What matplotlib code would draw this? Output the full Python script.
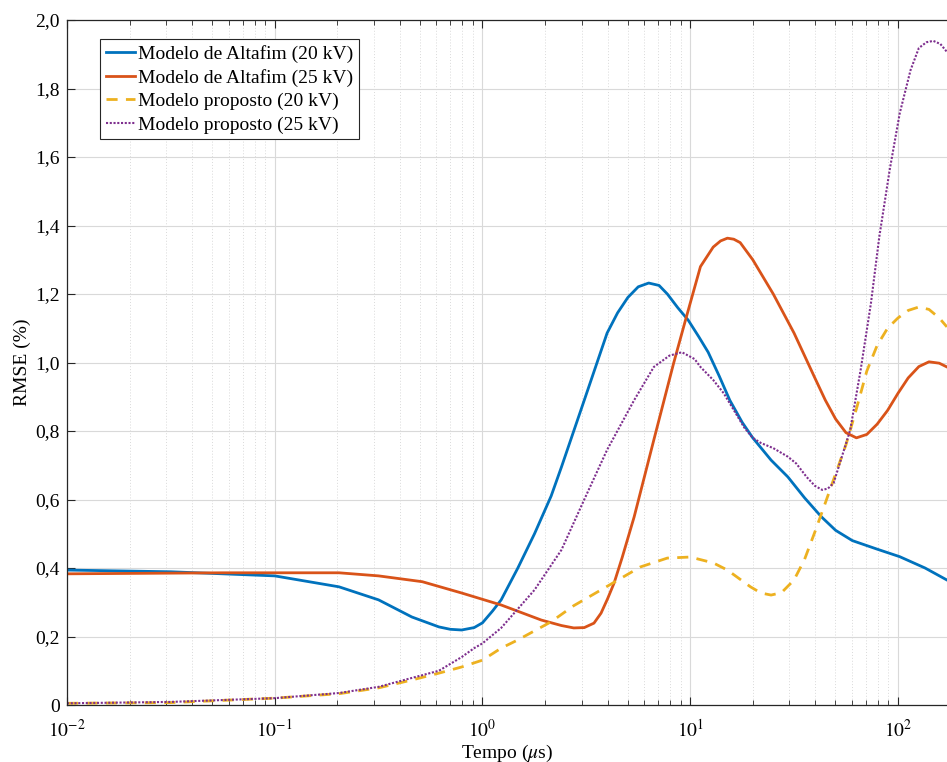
import math
import matplotlib
matplotlib.use("Agg")
import matplotlib.pyplot as plt
from matplotlib.ticker import FixedLocator, FuncFormatter, LogLocator, NullFormatter

plt.rcParams["font.family"] = "serif"
plt.rcParams["font.serif"] = ["Liberation Serif", "DejaVu Serif"]
plt.rcParams["mathtext.fontset"] = "stix"

# tempo em microssegundos, RMSE em %
t_alt20 = [0.01, 0.0316, 0.1, 0.204, 0.316, 0.457, 0.617, 0.70, 0.794, 0.912, 1.0, 1.12, 1.23,
           1.48, 1.78, 2.14, 2.40, 3.09, 3.98, 4.47, 5.01, 5.62, 6.31, 7.08, 7.76, 8.71,
           9.77, 11.0, 12.2, 13.8, 15.5, 17.8, 20.0, 24.5, 29.5, 35.5, 42.7, 50.1, 60.3,
           79.4, 102, 135, 172]
rmse_alt20 = [0.394, 0.389, 0.377, 0.345, 0.307, 0.257, 0.228, 0.221, 0.219, 0.226, 0.24, 0.275, 0.307,
              0.40, 0.50, 0.61, 0.695, 0.89, 1.086, 1.145, 1.19, 1.221, 1.232, 1.225, 1.20, 1.16,
              1.124, 1.075, 1.03, 0.96, 0.89, 0.825, 0.78, 0.715, 0.666, 0.605, 0.55, 0.51, 0.48,
              0.455, 0.433, 0.40, 0.365]

t_alt25 = [0.01, 0.0562, 0.204, 0.316, 0.513, 0.794, 1.23, 1.92, 2.40, 2.75, 3.09, 3.44,
           3.72, 4.0, 4.30, 4.7, 5.37, 6.68, 8.32, 9.55, 11.2, 12.9, 14.0, 15.1, 16.2, 17.4,
           20.0, 25.1, 31.6, 35.5, 39.8, 44.7, 50.1, 56.2, 63.1, 70.8, 79.4, 89.1, 100,
           112, 126, 141, 158, 172]
rmse_alt25 = [0.383, 0.386, 0.386, 0.377, 0.36, 0.327, 0.292, 0.248, 0.232, 0.225, 0.226, 0.239,
              0.268, 0.31, 0.356, 0.43, 0.549, 0.774, 0.998, 1.13, 1.28, 1.337, 1.355, 1.363, 1.36, 1.35,
              1.30, 1.20, 1.086, 1.02, 0.955, 0.89, 0.835, 0.795, 0.78, 0.79, 0.82, 0.86, 0.91,
              0.955, 0.988, 1.002, 0.998, 0.987]

t_prop20 = [0.01, 0.0316, 0.1, 0.204, 0.316, 0.457, 0.617, 0.794, 1.0, 1.23, 1.48, 2.14,
            2.75, 3.72, 5.75, 7.76, 10.0, 12.9, 15.1, 19.5, 21.9, 24.5, 27.5, 31.6, 35.5,
            39.8, 44.7, 50.1, 56.2, 63.1, 70.8, 79.4, 89.1, 100, 112, 126, 141, 158, 172]
rmse_prop20 = [0.005, 0.007, 0.02, 0.033, 0.05, 0.073, 0.093, 0.111, 0.131, 0.166, 0.19, 0.243,
               0.29, 0.336, 0.403, 0.429, 0.432, 0.415, 0.394, 0.345, 0.327, 0.321, 0.328, 0.365, 0.425,
               0.505, 0.59, 0.675, 0.76, 0.865, 0.975, 1.05, 1.10, 1.13, 1.152, 1.162, 1.155, 1.13, 1.104]

t_prop25 = [0.01, 0.0316, 0.1, 0.204, 0.316, 0.457, 0.617, 0.794, 0.912, 1.0, 1.23, 1.78,
            2.40, 3.09, 3.98, 5.37, 6.68, 7.94, 9.12, 10.5, 11.2, 12.9, 14.5, 18.2, 20.0,
            21.9, 25.1, 29.5, 32.4, 36.3, 39.8, 43.2, 46.0, 49.0, 52.5, 58.9, 66.1, 74.1,
            81.3, 91.2, 102, 115, 126, 137, 148, 160, 172]
rmse_prop25 = [0.005, 0.009, 0.02, 0.035, 0.053, 0.079, 0.10, 0.14, 0.166, 0.18, 0.225, 0.336,
               0.453, 0.60, 0.745, 0.89, 0.987, 1.02, 1.03, 1.01, 0.987, 0.949, 0.91, 0.81, 0.78,
               0.765, 0.75, 0.725, 0.705, 0.666, 0.64, 0.628, 0.632, 0.648, 0.706, 0.803, 0.978, 1.173,
               1.367, 1.562, 1.728, 1.854, 1.918, 1.935, 1.939, 1.93, 1.907]

labels = ["Modelo de Altafim (20 kV)", "Modelo de Altafim (25 kV)",
          "Modelo proposto (20 kV)", "Modelo proposto (25 kV)"]
yticks = [0, 0.2, 0.4, 0.6, 0.8, 1.0, 1.2, 1.4, 1.6, 1.8, 2.0]
xticks = [1e-2, 1e-1, 1e0, 1e1, 1e2]

fig = plt.figure(figsize=(9.47, 7.62), dpi=100)
ax = fig.add_axes([67 / 947, 57 / 762, 880 / 947, 685 / 762])

ax.plot(t_alt20, rmse_alt20, color="#0072BD", lw=2.0, label=labels[0])
ax.plot(t_alt25, rmse_alt25, color="#D95319", lw=2.0, label=labels[1])
ax.plot(t_prop20, rmse_prop20, color="#EDB120", lw=2.0, ls=(0, (4, 3)), label=labels[2])
ax.plot(t_prop25, rmse_prop25, color="#7E2F8E", lw=1.5, ls=(0, (1, 0.8)), label=labels[3])

ax.set_xscale("log")
ax.set_xlim(1e-2, 10 ** 2.236)
ax.set_ylim(0, 2.0)
ax.xaxis.set_major_locator(FixedLocator(xticks))
ax.xaxis.set_minor_locator(LogLocator(base=10, subs=range(2, 10), numticks=20))
ax.xaxis.set_minor_formatter(NullFormatter())
ax.xaxis.set_major_formatter(FuncFormatter(lambda v, p: r"$10^{%d}$" % round(math.log10(v))))
ax.yaxis.set_major_locator(FixedLocator(yticks))
ax.yaxis.set_major_formatter(FuncFormatter(lambda v, p: "0" if v == 0 else f"{v:.1f}".replace(".", ",")))

ax.grid(True, which="major", color="#d9d9d9", lw=0.8)
ax.grid(True, which="minor", axis="x", color="#d9d9d9", lw=0.7, ls=(0, (1, 2)))
ax.set_axisbelow(True)

ax.tick_params(which="both", direction="in", top=True, right=False, colors="#262626",
               labelsize=14, labelcolor="black")
ax.tick_params(which="major", length=6, width=0.8)
ax.tick_params(which="minor", length=3.5, width=0.6)
ax.tick_params(axis="x", pad=10)
ax.tick_params(axis="y", pad=5)
for s in ["left", "bottom", "top"]:
    ax.spines[s].set_color("#262626")
    ax.spines[s].set_linewidth(0.9)
ax.spines["right"].set_visible(False)

ax.set_xlabel(r"Tempo ($\mu$s)", fontsize=14, labelpad=1)
ax.set_ylabel("RMSE (%)", fontsize=14, labelpad=3)

leg = ax.legend(loc="upper left", bbox_to_anchor=(33 / 880, 1 - 19 / 685), borderaxespad=0,
                fontsize=14, frameon=True, fancybox=False, framealpha=1, edgecolor="#262626",
                handlelength=1.5, handletextpad=0.15, labelspacing=0.3, borderpad=0.3)
leg.get_frame().set_linewidth(0.8)

fig.savefig("out.png", dpi=100)
